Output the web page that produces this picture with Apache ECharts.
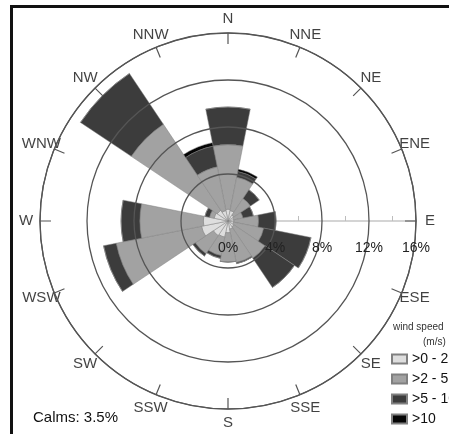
<!DOCTYPE html>
<html>
<head>
<meta charset="utf-8">
<script src="https://cdn.jsdelivr.net/npm/echarts@6/dist/echarts.min.js"></script>
<style>
html,body{margin:0;padding:0;background:#fff;}
#chart{width:449px;height:434px;}
</style>
</head>
<body>
<div id="chart"></div>
<script>
const directions = ['N','NNE','NE','ENE','E','ESE','SE','SSE','S','SSW','SW','WSW','W','WNW','NW','NNW'];
const speed0to2  = [1.0,0.9,0.6,0.5,0.5,0.5,0.6,0.7,1.0,1.4,1.5,2.3,2.1,1.2,1.1,0.9];
const speed2to5  = [5.5,2.9,1.7,0.8,2.1,2.6,3.2,2.9,2.5,1.6,1.85,7.4,5.4,0.4,8.8,3.8];
const speed5to10 = [3.2,0.5,0.9,0.9,1.5,4.1,3.0,0.1,0,0.25,0.25,1.1,1.6,0.4,5.2,1.8];
const speedOver10 = [0,0.2,0,0,0,0,0,0,0,0,0,0,0,0,0,0.3];
const speedClasses = ['>0 - 2','>2 - 5','>5 - 10','>10'];
const radiusTicks = [0,4,8,12,16];
const calmsText = 'Calms: 3.5%';

const chart = echarts.init(document.getElementById('chart'));
const C = [228,221], R = 188;
const FONT = 'Liberation Sans, Arial, sans-serif';
const colors = ['#dedede','#a2a2a2','#3c3c3c','#050505'];
const seriesData = [speed0to2, speed2to5, speed5to10, speedOver10];

const barSeries = speedClasses.map(function(name, i){
  return {
    name:name, type:'bar', coordinateSystem:'polar', polarIndex:0, stack:'total',
    barCategoryGap:'0%', data:seriesData[i],
    itemStyle:{color:colors[i], borderColor:'#808080', borderWidth:0.5}
  };
});

const labelSeries = {
  type:'scatter', coordinateSystem:'polar', polarIndex:3, symbolSize:0, silent:true,
  data: directions.map(function(d){ return [1, d]; }),
  label:{show:true, position:'inside', fontSize:15, color:'#111', fontFamily:FONT,
    formatter:function(p){ return p.data[1]; }}
};

const option = {
  animation:false,
  backgroundColor:'#fff',
  polar:[
    {center:C, radius:R},
    {center:C, radius:R},
    {center:C, radius:R},
    {center:C, radius:202}
  ],
  angleAxis:[
    {polarIndex:0, type:'category', data:directions, startAngle:101.25, clockwise:true, boundaryGap:true, z:5,
     axisLine:{show:true, lineStyle:{color:'#555', width:1.2}},
     axisTick:{show:true, alignWithLabel:true, inside:true, length:11, lineStyle:{color:'#555', width:1.2}},
     axisLabel:{show:false},
     splitLine:{show:false}},
    {polarIndex:1, type:'value', min:0, max:360, startAngle:0, show:false},
    {polarIndex:2, type:'value', min:0, max:360, startAngle:0, show:false},
    {polarIndex:3, type:'category', data:directions, startAngle:101.25, clockwise:true, boundaryGap:true, show:false}
  ],
  radiusAxis:[
    {polarIndex:0, type:'value', min:0, max:16, interval:4, axisLine:{show:false}, axisTick:{show:false}, axisLabel:{show:false}, splitLine:{show:false}},
    {polarIndex:1, type:'value', min:0, max:16, interval:4, z:0,
     axisLine:{show:true, lineStyle:{color:'#d4d4d4', width:2}},
     axisTick:{show:false},
     minorTick:{show:true, splitNumber:2, length:5, lineStyle:{color:'#bdbdbd', width:1}},
     axisLabel:{show:false}, splitLine:{show:false}},
    {polarIndex:2, type:'value', min:0, max:16, interval:4, z:10,
     axisLine:{show:false}, axisTick:{show:false},
     axisLabel:{show:true, margin:-27, verticalAlign:'middle', align:'center', fontSize:14, color:'#222',
       fontFamily:FONT,
       formatter:function(v){ return radiusTicks.indexOf(v) >= 0 ? v + '%' : ''; }},
     splitLine:{show:true, lineStyle:{color:'#555', width:1.3}}},
    {polarIndex:3, type:'value', min:0, max:1, show:false}
  ],
  legend:{
    orient:'vertical', left:391, top:352, padding:0, itemWidth:15, itemHeight:9, itemGap:6,
    icon:'rect', data:speedClasses,
    textStyle:{fontSize:14, color:'#111', lineHeight:14, fontFamily:FONT}
  },
  series: barSeries.concat([labelSeries]),
  graphic:[
    {type:'rect', shape:{x:10, y:5, width:3, height:440}, style:{fill:'#111'}, z:100},
    {type:'rect', shape:{x:10, y:5, width:450, height:3}, style:{fill:'#111'}, z:100},
    {type:'text', left:393, top:322, style:{text:'wind speed', fontSize:10, fill:'#333', fontFamily:FONT}},
    {type:'text', left:423, top:337, style:{text:'(m/s)', fontSize:10, fill:'#333', fontFamily:FONT}},
    {type:'text', left:33, top:410, style:{text:calmsText, fontSize:15, fill:'#111', fontFamily:FONT}}
  ]
};
chart.setOption(option);
</script>
</body>
</html>
